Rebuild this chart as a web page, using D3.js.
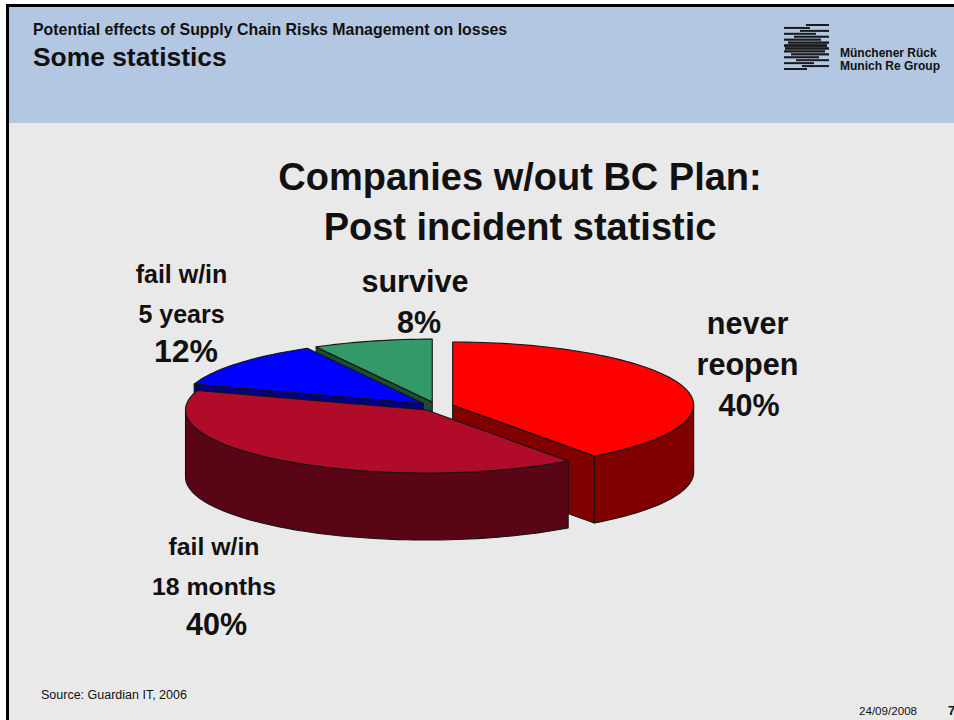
<!DOCTYPE html>
<html>
<head>
<meta charset="utf-8">
<script src="https://cdn.jsdelivr.net/npm/d3@7/dist/d3.min.js"></script>
<style>
html,body{margin:0;padding:0;background:#fff}
svg{display:block}
text{font-family:"Liberation Sans",Arial,sans-serif;fill:#111}
</style>
</head>
<body>
<svg id="slide" width="954" height="720"></svg>
<script>
// Outcome shares for companies without a business continuity plan
const outcomes = ["never reopen", "fail w/in 18 months", "fail w/in 5 years", "survive"];
const shares = [40, 40, 12, 8];
const topColors = ["#ff0000", "#b00b28", "#0000ff", "#339966"];
const wallColors = ["#800000", "#5a0515", "#000080", "#1a4d33"];
const labelLines = [
  ["never", "reopen", "40%"],
  ["fail w/in", "18 months", "40%"],
  ["fail w/in", "5 years", "12%"],
  ["survive", "8%"]
];

// Pie projection: an ellipse with an extruded wall; every slice is pulled out from the centre
const pie3d = {cx: 436.5, cy: 406.4, rx: 241, ry: 63, depth: 67, explode: 17};

const svg = d3.select("#slide");

// Slide frame and header band
svg.append("rect").attr("x", 6).attr("y", 4).attr("width", 948).attr("height", 716).attr("fill", "#000");
svg.append("rect").attr("x", 9).attr("y", 7).attr("width", 945).attr("height", 713).attr("fill", "#e9e9e9");
svg.append("rect").attr("x", 9).attr("y", 7).attr("width", 945).attr("height", 116).attr("fill", "#b3c6e2");

svg.append("text").attr("x", 33).attr("y", 35).attr("font-size", 15.9).attr("font-weight", "bold")
  .text("Potential effects of Supply Chain Risks Management on losses");
svg.append("text").attr("x", 33).attr("y", 66).attr("font-size", 26.4).attr("font-weight", "bold")
  .text("Some statistics");

// Company mark: alternating stripes that swell into a lens around the middle
const logoStart = [806, 784, 800, 784, 794, 784, 788, 784, 785, 784, 791, 784, 796, 784, 802, 784];
const logoEnd = [829, 810, 829, 816, 829, 821, 829, 827, 829, 825, 829, 819, 829, 814, 829, 807];
const logoInk = [2, 2, 2, 2, 2.1, 2.2, 2.4, 2.8, 2.6, 2.3, 2.2, 2.1, 2, 2, 2, 2];
const logoY = d3.scaleLinear().domain([0, logoStart.length - 1]).range([25, 69]);
svg.append("g").selectAll("rect").data(logoStart).join("rect")
  .attr("x", d => d)
  .attr("y", (d, i) => logoY(i) - logoInk[i] / 2)
  .attr("width", (d, i) => logoEnd[i] - d)
  .attr("height", (d, i) => logoInk[i])
  .attr("fill", "#1a1a1a");
svg.append("text").attr("x", 840).attr("y", 57).attr("font-size", 12).attr("font-weight", "bold").text("Münchener Rück");
svg.append("text").attr("x", 840).attr("y", 70).attr("font-size", 12).attr("font-weight", "bold").text("Munich Re Group");

// Chart title
const titleLines = ["Companies w/out BC Plan:", "Post incident statistic"];
svg.append("g").selectAll("text").data(titleLines).join("text")
  .attr("x", 520).attr("y", (d, i) => 190 + i * 49.5)
  .attr("text-anchor", "middle").attr("font-size", 38).attr("font-weight", "bold")
  .text(d => d);

// Slice geometry from d3.pie; angles run clockwise from twelve o'clock
const arcs = d3.pie().value(d => d).sort(null)(shares);

const centreOf = a => {
  const mid = (a.startAngle + a.endAngle) / 2;
  return [pie3d.cx + pie3d.explode * Math.sin(mid),
          pie3d.cy - pie3d.explode * Math.cos(mid) * pie3d.ry / pie3d.rx];
};
const rimPoint = (c, t, drop = 0) =>
  [c[0] + pie3d.rx * Math.sin(t), c[1] - pie3d.ry * Math.cos(t) + drop];
const rimAngles = (a0, a1) => {
  const n = Math.max(2, Math.ceil((a1 - a0) / 0.03));
  return d3.range(n + 1).map(i => a0 + (a1 - a0) * i / n);
};
const line = d3.line();
const wallStroke = g => g.attr("stroke", "#141414").attr("stroke-width", 1.1).attr("stroke-linejoin", "round");

function topPath(a) {
  const c = centreOf(a);
  return line([c, ...rimAngles(a.startAngle, a.endAngle).map(t => rimPoint(c, t))]) + "Z";
}
// Outer curved wall covers only the part of the rim facing the viewer
function curvedWall(a) {
  const lo = Math.max(a.startAngle, Math.PI / 2), hi = Math.min(a.endAngle, 3 * Math.PI / 2);
  if (lo >= hi) return null;
  const c = centreOf(a), ts = rimAngles(lo, hi);
  return line([...ts.map(t => rimPoint(c, t)), ...ts.slice().reverse().map(t => rimPoint(c, t, pie3d.depth))]) + "Z";
}
// Flat cut face along a radial edge
function radialWall(a, t) {
  const c = centreOf(a), p = rimPoint(c, t);
  return line([c, p, [p[0], p[1] + pie3d.depth], [c[0], c[1] + pie3d.depth]]) + "Z";
}

const faces = [];
const addSlice = (i, cutAngle) => {
  const a = arcs[i];
  if (cutAngle !== null) faces.push({d: radialWall(a, cutAngle), fill: wallColors[i]});
  const w = curvedWall(a);
  if (w) faces.push({d: w, fill: wallColors[i]});
  faces.push({d: topPath(a), fill: topColors[i]});
};
// Painted back to front: survive, 5 years, never reopen, 18 months
addSlice(3, arcs[3].startAngle);
addSlice(2, arcs[2].startAngle);
addSlice(0, arcs[0].endAngle);
addSlice(1, null);

svg.append("g").attr("class", "pie").selectAll("path").data(faces).join("path")
  .attr("d", d => d.d).attr("fill", d => d.fill).call(wallStroke);

// Category labels: name lines, then the percentage in its own size, nudged sideways
const labelPos = [[747.5, 334], [214, 555], [181.5, 283], [415, 292]];
const labelGap = [41, 40, 39.5, 41];
const nameSize = [30.6, 24.8, 25, 30.6];
const percentSize = [30.5, 30.5, 32, 30.5];
const percentShift = [1.5, 2.5, 4.5, 4];
const labelG = svg.append("g").selectAll("g").data(labelLines).join("g")
  .attr("transform", (d, i) => `translate(${labelPos[i]})`);
labelG.each(function(lines, k) {
  d3.select(this).selectAll("text").data(lines).join("text")
    .attr("text-anchor", "middle")
    .attr("x", d => d.endsWith("%") ? percentShift[k] : 0)
    .attr("y", (d, i) => i * labelGap[k])
    .attr("font-weight", "bold")
    .attr("font-size", d => d.endsWith("%") ? percentSize[k] : nameSize[k])
    .text(d => d);
});

// Footer
svg.append("text").attr("x", 41).attr("y", 699).attr("font-size", 12.5).text("Source: Guardian IT, 2006");
svg.append("text").attr("x", 859).attr("y", 715).attr("font-size", 11.6).text("24/09/2008");
svg.append("text").attr("x", 948).attr("y", 715).attr("font-size", 13).attr("font-weight", "bold").text("7");
</script>
</body>
</html>
